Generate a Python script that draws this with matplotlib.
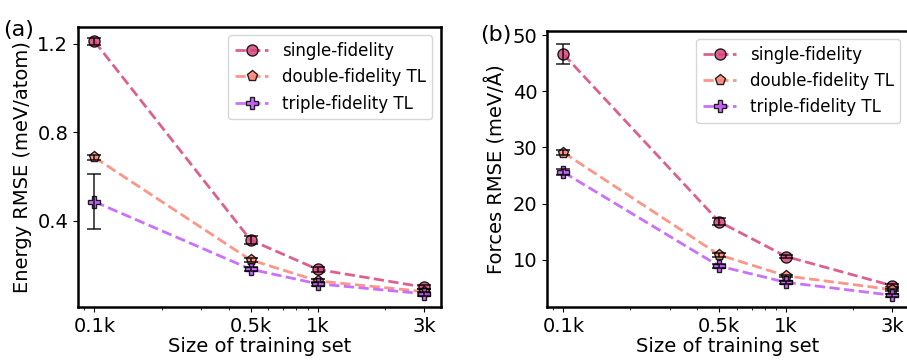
import numpy as np
import matplotlib
matplotlib.use("Agg")
import matplotlib.pyplot as plt

sizes = [100, 500, 1000, 3000]
size_labels = ['0.1k', '0.5k', '1k', '3k']

# energy RMSE (meV/atom)
e_single = [1.21, 0.313, 0.18, 0.10]
e_single_err = [0.015, 0.02, 0.01, 0.01]
e_double = [0.686, 0.223, 0.128, 0.08]
e_double_err = [0.01, 0.01, 0.01, 0.01]
e_triple = [0.486, 0.181, 0.115, 0.07]
e_triple_err = [0.124, 0.01, 0.01, 0.01]

# forces RMSE (meV/A)
f_single = [46.6, 16.8, 10.6, 5.4]
f_single_err = [1.8, 0.6, 0.3, 0.3]
f_double = [29.1, 10.9, 7.15, 4.7]
f_double_err = [0.4, 0.3, 0.2, 0.2]
f_triple = [25.6, 8.9, 6.0, 3.7]
f_triple_err = [0.5, 0.3, 0.3, 0.3]

labels = ['single-fidelity', 'double-fidelity TL', 'triple-fidelity TL']
colors = ['#d6457c', '#fc8474', '#c257fb']
markers = ['o', 'p', 'P']

plt.rcParams['font.size'] = 14

fig = plt.figure(figsize=(9.07, 3.6), dpi=100)
ax1 = fig.add_axes([0.086, 0.147, 0.400, 0.778])
ax2 = fig.add_axes([0.603, 0.147, 0.399, 0.768])


def draw(ax, series, errs, ylabel):
    for y, err, lab, c, m in zip(series, errs, labels, colors, markers):
        ax.plot(sizes, y, ls='--', lw=2, color=c, marker=m, markersize=8,
                mfc=c, mec='black', alpha=0.85, label=lab)
        ax.errorbar(sizes, y, yerr=err, fmt='none', ecolor='black', alpha=0.75,
                    elinewidth=1.3, capsize=5, capthick=1.3)
    ax.set_xscale('log')
    ax.set_xticks(sizes)
    ax.set_xticklabels(size_labels)
    ax.set_xlabel('Size of training set', labelpad=1)
    ax.set_ylabel(ylabel)
    for s in ax.spines.values():
        s.set_linewidth(1.8)
    ax.legend(fontsize=12, loc='upper right')


draw(ax1, [e_single, e_double, e_triple], [e_single_err, e_double_err, e_triple_err],
     'Energy RMSE (meV/atom)')
ax1.set_yticks([0.4, 0.8, 1.2])
ax1.set_ylim(0.01, 1.275)

draw(ax2, [f_single, f_double, f_triple], [f_single_err, f_double_err, f_triple_err],
     'Forces RMSE (meV/Å)')
ax2.set_yticks([10, 20, 30, 40, 50])
ax2.set_ylim(1.6, 50.8)

fig.text(0.003, 0.90, '(a)', fontsize=16)
fig.text(0.529, 0.885, '(b)', fontsize=16)

fig.savefig('out.png', dpi=100)
